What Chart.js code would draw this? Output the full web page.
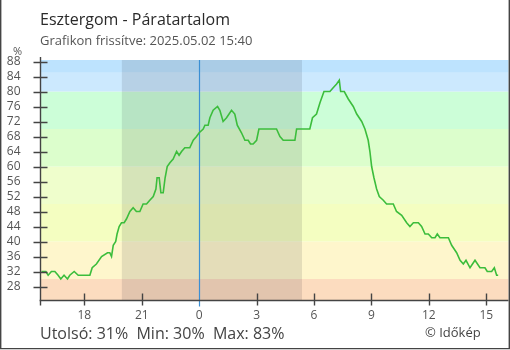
<!DOCTYPE html>
<html>
<head>
<meta charset="utf-8">
<script src="https://cdn.jsdelivr.net/npm/chart.js@4"></script>
<style>
  html, body { margin: 0; padding: 0; background: #fff; }
  #wrap { position: relative; width: 510px; height: 350px; font-family: 'Open Sans', sans-serif; }
  #wrap canvas { position: absolute; left: 0; top: 0; }
  .txt { position: absolute; white-space: pre; line-height: 1; }
  #title { left: 40px; top: 11px; font-size: 16px; color: #2a2a2a; }
  #sub { left: 40px; top: 33.5px; font-size: 13px; color: #555; }
  #unit { left: 13px; top: 45px; font-size: 11px; color: #555; }
  #stats { left: 40px; top: 325px; font-size: 16px; color: #444; }
  #copy { left: 425px; top: 325.5px; font-size: 13px; color: #444; }
</style>
</head>
<body>
<div id="wrap">
  <canvas id="humChart" width="510" height="350"></canvas>
  <div class="txt" id="title">Esztergom - Páratartalom</div>
  <div class="txt" id="sub">Grafikon frissítve: 2025.05.02 15:40</div>
  <div class="txt" id="unit">%</div>
  <div class="txt" id="stats">Utolsó: 31%  Min: 30%  Max: 83%</div>
  <div class="txt" id="copy">© Időkép</div>
</div>
<script>
/* ---- data: hours relative to midnight (negative = previous day) ---- */
const hours = [
  -8.24, -8.01, -7.89, -7.72, -7.54, -7.37, -7.23, -7.06, -6.88, -6.76,
  -6.53, -6.32, -5.71, -5.59, -5.37, -5.10, -4.79, -4.67, -4.58, -4.49,
  -4.36, -4.29, -4.18, -4.06, -3.92, -3.80, -3.62, -3.45, -3.28, -3.10,
  -2.93, -2.75, -2.58, -2.40, -2.26, -2.20, -2.09, -2.00, -1.88, -1.78,
  -1.67, -1.53, -1.36, -1.18, -1.05, -0.92, -0.75, -0.49, -0.31, -0.14,
  0.00, 0.21, 0.30, 0.47, 0.56, 0.73, 0.96, 1.08, 1.25, 1.43,
  1.69, 1.86, 1.99, 2.21, 2.39, 2.56, 2.68, 2.82, 3.00, 3.12,
  4.04, 4.22, 4.39, 5.00, 5.09, 5.78, 5.92, 6.13, 6.31, 6.52,
  6.83, 7.00, 7.18, 7.32, 7.39, 7.58, 7.79, 8.05, 8.23, 8.49,
  8.66, 8.83, 8.92, 9.01, 9.13, 9.27, 9.41, 9.62, 9.79, 10.14,
  10.31, 10.58, 10.84, 11.01, 11.19, 11.45, 11.62, 11.80, 11.97, 12.15,
  12.32, 12.44, 12.58, 13.02, 13.19, 13.45, 13.63, 13.80, 13.94, 14.15,
  14.41, 14.67, 14.93, 15.05, 15.28, 15.42, 15.54, 15.62
];
const humidity = [
  32, 32, 31, 32, 32, 31, 30, 31, 30, 31,
  32, 31, 31, 33, 34, 36, 37, 37, 36, 39,
  40, 42, 44, 45, 45, 46, 48, 49, 48, 48,
  50, 50, 51, 52, 54, 57, 57, 53, 53, 57,
  60, 61, 62, 64, 63, 64, 65, 65, 67, 68,
  69, 70, 71, 71, 73, 75, 76, 75, 72, 73,
  75, 74, 71, 69, 67, 67, 66, 66, 67, 70,
  70, 68, 67, 67, 70, 70, 73, 74, 77, 80,
  80, 81, 82, 83, 80, 80, 78, 76, 74, 72,
  70, 67, 64, 60, 57, 54, 52, 51, 50, 50,
  48, 47, 45, 44, 45, 45, 44, 42, 42, 41,
  41, 42, 41, 41, 39, 37, 35, 34, 35, 33,
  35, 33, 33, 32, 32, 33, 31, 31
];

const yTicks = [28, 32, 36, 40, 44, 48, 52, 56, 60, 64, 68, 72, 76, 80, 84, 88];
const xTickHours = [-6, -3, 0, 3, 6, 9, 12, 15];

// humidity colour bands
const bandFrom = [0, 30, 40, 50, 60, 70, 80, 85];
const bandTo   = [30, 40, 50, 60, 70, 80, 85, 100];
const bandColors = ['#fcdcbf', '#fef6cc', '#f4fec1', '#effecc', '#dcfecc', '#ccfed8', '#cce9fe', '#bde3fe'];

// night (sunset .. sunrise), hours relative to midnight
const night = [-4.04, 5.37];

/* ---- plugins ---- */
const backdrop = {
  id: 'backdrop',
  beforeDatasetsDraw(chart) {
    const { ctx, chartArea: a, scales: { x, y } } = chart;
    ctx.save();
    bandFrom.forEach((lo, i) => {
      const top = Math.max(y.getPixelForValue(bandTo[i]), a.top);
      const bot = Math.min(y.getPixelForValue(lo), a.bottom);
      if (bot <= top) return;
      ctx.fillStyle = bandColors[i];
      ctx.fillRect(a.left, top, a.right - a.left, bot - top);
    });
    // night shading
    const n0 = x.getPixelForValue(night[0]);
    const n1 = x.getPixelForValue(night[1]);
    ctx.fillStyle = 'rgba(20,20,40,0.11)';
    ctx.fillRect(n0, a.top, n1 - n0, a.bottom - a.top);
    // midnight line
    const m = Math.round(x.getPixelForValue(0)) + 0.5;
    ctx.strokeStyle = '#3b8fd4';
    ctx.lineWidth = 1.2;
    ctx.beginPath();
    ctx.moveTo(m, a.top);
    ctx.lineTo(m, a.bottom + 6);
    ctx.stroke();
    ctx.restore();
  },
  afterDraw(chart) {
    const { ctx, chartArea: a, scales: { x, y }, width, height } = chart;
    ctx.save();
    ctx.strokeStyle = '#444';
    ctx.lineWidth = 1.4;
    ctx.beginPath();
    // axes
    ctx.moveTo(a.left, a.top - 3);
    ctx.lineTo(a.left, a.bottom + 5);
    ctx.moveTo(a.left - 1, a.bottom);
    ctx.lineTo(a.right, a.bottom);
    // y tick marks crossing the axis
    yTicks.forEach(v => {
      const p = Math.round(y.getPixelForValue(v)) + 0.5;
      ctx.moveTo(a.left - 7, p);
      ctx.lineTo(a.left + 7, p);
    });
    // x tick marks
    xTickHours.forEach(h => {
      if (h === 0) return;
      const p = Math.round(x.getPixelForValue(h)) + 0.5;
      ctx.moveTo(p, a.bottom - 7);
      ctx.lineTo(p, a.bottom + 5);
    });
    ctx.stroke();
    // frame
    ctx.beginPath();
    ctx.moveTo(0.7, 0);
    ctx.lineTo(0.7, height - 1.4);
    ctx.lineTo(width - 0.7, height - 1.4);
    ctx.lineTo(width - 0.7, 0);
    ctx.stroke();
    ctx.restore();
  }
};

const ctx = document.getElementById('humChart');
new Chart(ctx, {
  type: 'line',
  data: {
    datasets: [{
      data: hours.map((h, i) => ({ x: h, y: humidity[i] })),
      borderColor: '#3cbd3c',
      borderWidth: 1.6,
      pointRadius: 0,
      tension: 0,
      fill: false
    }]
  },
  options: {
    responsive: false,
    animation: false,
    layout: { padding: { left: 0, top: 60, right: 1.5, bottom: 29.5 } },
    plugins: { legend: { display: false }, tooltip: { enabled: false } },
    scales: {
      x: {
        type: 'linear',
        min: -8.29,
        max: 16.16,
        afterFit: s => { s.height = 20; },
        afterBuildTicks: s => { s.ticks = xTickHours.map(v => ({ value: v })); },
        grid: { display: false, drawTicks: false },
        border: { display: false },
        ticks: {
          autoSkip: false,
          padding: 8,
          color: '#555',
          font: { family: 'Open Sans', size: 12 },
          maxRotation: 0,
          callback: v => String(((v % 24) + 24) % 24)
        }
      },
      y: {
        min: 24.27,
        max: 88.4,
        afterFit: s => { s.width = 40.5; },
        afterBuildTicks: s => { s.ticks = yTicks.map(v => ({ value: v })); },
        grid: { display: false, drawTicks: false },
        border: { display: false },
        ticks: {
          autoSkip: false,
          padding: 20,
          color: '#555',
          font: { family: 'Open Sans', size: 12 }
        }
      }
    }
  },
  plugins: [backdrop]
});
</script>
</body>
</html>
